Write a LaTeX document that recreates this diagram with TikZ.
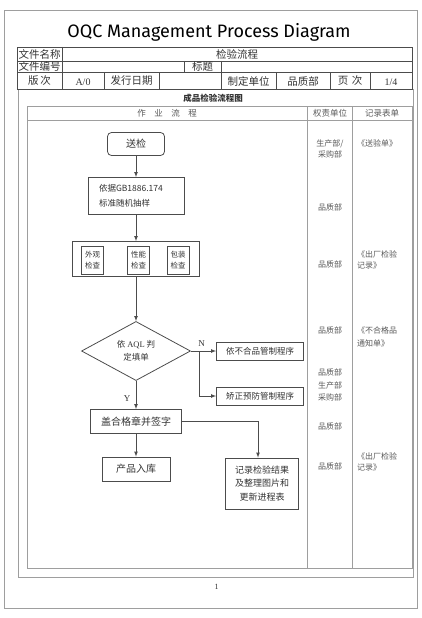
\documentclass[tikz,border=0pt]{standalone}
\usepackage{fontspec}
\setmainfont{Liberation Serif}
\newfontfamily\cjk{Noto Sans CJK SC}
\newfontfamily\titlefont{Fira Sans}
\usepackage{tikz}
\usetikzlibrary{arrows, shapes.geometric}
\usepackage{xcolor}
\definecolor{framegray}{gray}{0.62}
\definecolor{linegray}{gray}{0.3}
\definecolor{inkgray}{gray}{0.2}
\definecolor{colgray}{gray}{0.35}

\begin{document}
\begin{tikzpicture}[x=1pt, y=-1pt, >=latex,
        cell/.style={font=\cjk\fontsize{10.5}{12}\selectfont, text=inkgray, inner sep=0pt},
        latin/.style={font=\fontsize{10}{12}\selectfont, text=inkgray, inner sep=0pt},
        colhead/.style={font=\cjk\fontsize{8.5}{10}\selectfont, text=colgray, inner sep=0pt},
        duty/.style={font=\cjk\fontsize{8}{11}\selectfont, text=colgray, inner sep=0pt, align=center},
        record/.style={font=\cjk\fontsize{8}{11}\selectfont, text=colgray, inner sep=0pt, align=left, anchor=west},
        box/.style={draw=linegray, line width=0.8pt, text=inkgray, inner sep=0pt, align=center},
        flow/.style={draw=linegray, line width=0.7pt, ->}]
        \useasboundingbox (0, 0) rectangle (422, 618);
        % Frames
        \draw [framegray, line width=1pt] (4.5, 11) rectangle (417, 608);
        \draw [framegray, line width=1pt] (18, 89) rectangle (413, 577);
        \node (title) at (209, 32) {\titlefont\fontsize{18}{20}\selectfont OQC Management Process Diagram};
        % Header table
        \draw [linegray, line width=0.8pt] (17, 47) rectangle (412, 89);
        \draw [linegray, line width=0.8pt] (17, 61) -- (412, 61) (17, 72) -- (412, 72);
        \draw [linegray, line width=0.8pt] (62, 47) -- (62, 89) (184, 61) -- (184, 72) (221, 61) -- (221, 89);
        \foreach \x in {104, 159, 276, 330, 370}
            \draw [linegray, line width=0.8pt] (\x, 72) -- (\x, 89);
        \node [cell] (name) at (39.5, 54) {文件名称};
        \node [cell] (nameval) at (237, 54) {检验流程};
        \node [cell] (code) at (39.5, 66.5) {文件编号};
        \node [cell] (subject) at (202.5, 66.5) {标题};
        \node [cell] (version) at (39.5, 81) {版\,次};
        \node [latin] (versionval) at (83, 82) {A/0};
        \node [cell] (issue) at (131.5, 81) {发行日期};
        \node [cell] (maker) at (248.5, 81) {制定单位};
        \node [cell] (makerval) at (303, 81) {品质部};
        \node [cell] (page) at (350, 81) {页\,\,次};
        \node [latin] (pageval) at (391, 82) {1/4};
        % Flow table
        \node [font=\cjk\bfseries\fontsize{8.5}{10}\selectfont, text=inkgray] (chart) at (213, 98) {成品检验流程图};
        \draw [framegray, line width=0.9pt] (27, 106) rectangle (412, 568);
        \draw [framegray, line width=0.9pt] (27, 120) -- (412, 120);
        \draw [framegray, line width=0.9pt] (307.5, 106) -- (307.5, 568) (352.5, 106) -- (352.5, 568);
        \node [colhead] (work) at (167, 113) {作\quad 业\quad 流\quad 程};
        \node [colhead] (duties) at (330, 113) {权责单位};
        \node [colhead] (records) at (382, 113) {记录表单};
        % Steps
        \node [box, rounded corners=4pt, minimum width=57, minimum height=23, font=\cjk\fontsize{10}{12}\selectfont] (send) at (136, 144) {送检};
        \node [box, minimum width=96, minimum height=37, align=left, text width=74, inner xsep=11, font=\cjk\fontsize{8.5}{15}\selectfont] (sample) at (136, 196) {依据GB1886.174\\标准随机抽样};
        \node [box, minimum width=127, minimum height=35] (checks) at (136, 259) {};
        \node [box, minimum width=22, minimum height=28, font=\cjk\fontsize{7.5}{11}\selectfont] (look) at (92.5, 260) {外观\\检查};
        \node [box, minimum width=22, minimum height=28, font=\cjk\fontsize{7.5}{11}\selectfont] (perf) at (138.5, 260) {性能\\检查};
        \node [box, minimum width=22, minimum height=28, font=\cjk\fontsize{7.5}{11}\selectfont] (pack) at (178, 260) {包装\\检查};
        \node [box, diamond, minimum width=109, minimum height=59, font=\cjk\fontsize{8.5}{13}\selectfont] (aql) at (136, 351) {依 {\rmfamily AQL} 判\\定填单};
        \node [box, minimum width=87, minimum height=18, font=\cjk\fontsize{8.5}{10}\selectfont] (reject) at (260, 351) {依不合品管制程序};
        \node [box, minimum width=87, minimum height=18, font=\cjk\fontsize{8.5}{10}\selectfont] (correct) at (260, 396) {矫正预防管制程序};
        \node [box, minimum width=91, minimum height=24, font=\cjk\fontsize{10}{12}\selectfont] (stamp) at (136, 421.5) {盖合格章并签字};
        \node [box, minimum width=68, minimum height=24, font=\cjk\fontsize{10}{12}\selectfont] (store) at (136, 469) {产品入库};
        \node [box, minimum width=73, minimum height=51, font=\cjk\fontsize{9}{13.5}\selectfont] (log) at (262, 483.5) {记录检验结果\\及整理图片和\\更新进程表};
        \coordinate (split) at (199.5, 351);
        % Connectors
        \draw [flow] (send) -- (sample);
        \draw [flow] (sample) -- (checks);
        \draw [flow] (checks) -- (aql);
        \draw [flow] (aql) -- (reject);
        \draw [flow] (split) |- (correct);
        \draw [flow] (aql) -- (stamp);
        \draw [flow] (stamp) -- (store);
        \draw [flow] (stamp) -| ([xshift=-4]log.north);
        \node [latin, font=\fontsize{9}{10}\selectfont] (no) at (201.5, 344) {N};
        \node [latin, font=\fontsize{9}{10}\selectfont] (yes) at (127, 399) {Y};
        % Duties
        \node [duty] (d1) at (330, 149) {生产部/\\采购部};
        \node [duty] (d2) at (330, 207.5) {品质部};
        \node [duty] (d3) at (330, 264) {品质部};
        \node [duty] (d4) at (330, 330) {品质部};
        \node [duty, font=\cjk\fontsize{8}{12.3}\selectfont] (d5) at (330, 385) {品质部\\生产部\\采购部};
        \node [duty] (d6) at (330, 426) {品质部};
        \node [duty] (d7) at (330, 466.5) {品质部};
        % Records
        \node [record] (r1) at (357, 143.5) {《送验单》};
        \node [record] (r2) at (357, 259.5) {《出厂检验\\记录》};
        \node [record, font=\cjk\fontsize{8}{13}\selectfont] (r3) at (357, 336.5) {《不合格品\\通知单》};
        \node [record] (r4) at (357, 461.5) {《出厂检验\\记录》};
        % Page
        \node [latin, font=\fontsize{8}{10}\selectfont] (pageno) at (216.5, 587) {1};
    \end{tikzpicture}
\end{document}
